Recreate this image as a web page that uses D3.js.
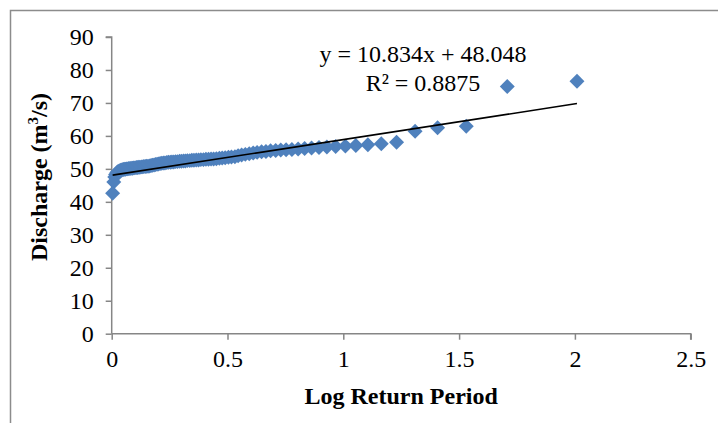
<!DOCTYPE html>
<html>
<head>
<meta charset="utf-8">
<script src="https://cdn.jsdelivr.net/npm/d3@7"></script>
<style>
  body { margin: 0; background: #fff; }
  svg { display: block; font-family: "Liberation Serif", "Times New Roman", serif; }
</style>
</head>
<body>
<svg id="canvas" width="718" height="423"></svg>
<script>
// log10 of the return period, one per ranked flow
const logReturnPeriod = [
  2.009, 1.708, 1.531, 1.407, 1.310, 1.230, 1.164, 1.106, 1.054, 1.009,
  0.967, 0.929, 0.895, 0.863, 0.833, 0.805, 0.778, 0.753, 0.730, 0.708,
  0.686, 0.666, 0.647, 0.628, 0.611, 0.594, 0.577, 0.561, 0.546, 0.532,
  0.517, 0.504, 0.490, 0.477, 0.465, 0.452, 0.440, 0.429, 0.418, 0.407,
  0.396, 0.385, 0.375, 0.365, 0.355, 0.346, 0.337, 0.327, 0.318, 0.310,
  0.301, 0.293, 0.284, 0.276, 0.268, 0.260, 0.253, 0.245, 0.238, 0.230,
  0.223, 0.216, 0.209, 0.202, 0.196, 0.189, 0.183, 0.176, 0.170, 0.164,
  0.157, 0.151, 0.145, 0.139, 0.134, 0.128, 0.122, 0.117, 0.111, 0.106,
  0.100, 0.095, 0.090, 0.084, 0.079, 0.074, 0.069, 0.064, 0.059, 0.054,
  0.050, 0.045, 0.040, 0.036, 0.031, 0.026, 0.022, 0.017, 0.013, 0.009,
  0.004
];

// discharge in m3/s, same order
const discharge = [
  76.6, 75.0, 62.9, 62.5, 61.4, 58.1, 57.6, 57.3, 57.1, 56.9,
  56.8, 56.6, 56.5, 56.3, 56.2, 56.0, 55.9, 55.8, 55.7, 55.6,
  55.5, 55.3, 55.2, 55.0, 54.8, 54.6, 54.4, 54.2, 54.0, 53.7,
  53.6, 53.5, 53.4, 53.3, 53.2, 53.1, 53.0, 53.0, 52.9, 52.9,
  52.8, 52.8, 52.7, 52.7, 52.6, 52.6, 52.5, 52.5, 52.4, 52.4,
  52.3, 52.3, 52.2, 52.2, 52.1, 52.1, 52.0, 52.0, 51.9, 51.8,
  51.8, 51.7, 51.6, 51.5, 51.4, 51.3, 51.2, 51.1, 51.0, 50.9,
  50.8, 50.8, 50.7, 50.7, 50.6, 50.6, 50.5, 50.5, 50.4, 50.4,
  50.3, 50.3, 50.2, 50.2, 50.1, 50.1, 50.0, 50.0, 49.9, 49.9,
  49.8, 49.7, 49.6, 49.5, 49.3, 49.1, 48.8, 48.3, 47.5, 46.0,
  42.6
];

const xTicks = [0, 0.5, 1, 1.5, 2, 2.5];
const yTicks = [0, 10, 20, 30, 40, 50, 60, 70, 80, 90];

// trendline from the chart label
const slope = 10.834;
const intercept = 48.048;
const rSquared = 0.8875;

const svg = d3.select('#canvas');

const x = d3.scaleLinear().domain([0, 2.5]).range([111.7, 690.7]);
const y = d3.scaleLinear().domain([0, 90]).range([333.7, 37]);

// chart area border (runs off the right and bottom)
svg.append('path')
  .attr('d', 'M10.5,430 V10.5 H730')
  .attr('fill', 'none')
  .attr('stroke', '#8c8c8c')
  .attr('stroke-width', 1.5);

const axisColor = '#868686';

const xAxis = svg.append('g')
  .attr('transform', `translate(0,${y(0)})`)
  .call(d3.axisBottom(x).tickValues(xTicks).tickSize(6).tickPadding(10)
    .tickFormat(d3.format('')));

const yAxis = svg.append('g')
  .attr('transform', `translate(${x(0)},0)`)
  .call(d3.axisLeft(y).tickValues(yTicks).tickSize(6).tickPadding(12));

[xAxis, yAxis].forEach((g) => {
  g.select('.domain').attr('stroke', axisColor).attr('stroke-width', 1.5)
    .attr('d', g === xAxis ? `M${x(0)},0H${x(2.5)}V6` : `M-6,${y(90)}H0V${y(0)}`);
  g.selectAll('.tick line').attr('stroke', axisColor).attr('stroke-width', 1.5);
  g.selectAll('.tick text')
    .attr('fill', '#000')
    .style('font-family', '"Liberation Serif", "Times New Roman", serif')
    .style('font-size', '24px');
});

// points
const points = logReturnPeriod.map((v, i) => ({ x: v, y: discharge[i] }));
const diamond = d3.symbol(d3.symbolSquare, 112);

svg.append('g')
  .selectAll('path')
  .data(points)
  .enter()
  .append('path')
  .attr('d', diamond)
  .attr('transform', (d) => `translate(${x(d.x)},${y(d.y)}) rotate(45)`)
  .attr('fill', '#4f81bd');

// linear trendline
const xMin = d3.min(logReturnPeriod);
const xMax = d3.max(logReturnPeriod);
svg.append('line')
  .attr('x1', x(xMin))
  .attr('y1', y(slope * xMin + intercept))
  .attr('x2', x(xMax))
  .attr('y2', y(slope * xMax + intercept))
  .attr('stroke', '#000')
  .attr('stroke-width', 1.6);

// equation label
const eq = svg.append('text')
  .attr('text-anchor', 'middle')
  .style('font-size', '24px');
eq.append('tspan').attr('x', 423).attr('y', 62)
  .text(`y = ${slope}x + ${intercept}`);
eq.append('tspan').attr('x', 423).attr('y', 91)
  .text(`R² = ${rSquared}`);

// axis titles
svg.append('text')
  .attr('x', (x(0) + x(2.5)) / 2)
  .attr('y', 404)
  .attr('text-anchor', 'middle')
  .style('font-size', '24px')
  .style('font-weight', 'bold')
  .text('Log Return Period');

const yTitle = svg.append('text')
  .attr('transform', 'translate(47,177) rotate(-90)')
  .attr('text-anchor', 'middle')
  .style('font-size', '24px')
  .style('font-weight', 'bold');
yTitle.append('tspan').text('Discharge (m');
yTitle.append('tspan').attr('dy', -9).style('font-size', '15px').text('3');
yTitle.append('tspan').attr('dy', 9).text('/s)');
</script>
</body>
</html>
